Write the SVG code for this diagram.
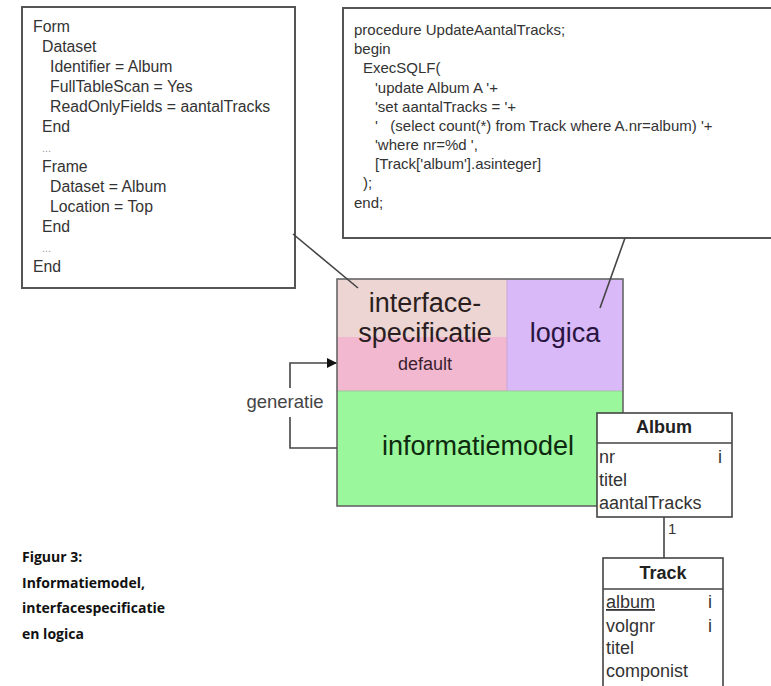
<svg xmlns="http://www.w3.org/2000/svg" width="771" height="686" viewBox="0 0 771 686">
<defs>
<marker id="arr" markerWidth="10" markerHeight="10" refX="9" refY="5" orient="auto" markerUnits="userSpaceOnUse">
<path d="M0,0 L10,5 L0,10 z" fill="#111"/>
</marker>
<style>
.code{font-family:"Liberation Sans",Arial,sans-serif;font-size:15px;fill:#333}
.code2{font-family:"Liberation Sans",Arial,sans-serif;font-size:15.8px;fill:#333}
.dots{font-size:11px;fill:#999}
.box{fill:#fff;stroke:#555;stroke-width:2}
.big{font-family:"Liberation Sans",Arial,sans-serif;font-size:27px;text-anchor:middle}
.uml{font-family:"Liberation Sans",Arial,sans-serif;font-size:18px;fill:#333}
.umlh{font-family:"Liberation Sans",Arial,sans-serif;font-size:18px;font-weight:bold;fill:#222;text-anchor:middle}
.ln{stroke:#444;stroke-width:1.6;fill:none}
.cap{font-family:"Open Sans","Noto Sans",sans-serif;font-size:14px;font-weight:bold;fill:#111}
</style>
</defs>
<rect width="771" height="686" fill="#fff"/>

<g id="formspec">
<rect class="box" x="22" y="7" width="273" height="281"/>
<text class="code2">
<tspan x="33" y="32">Form</tspan>
<tspan x="42" y="52">Dataset</tspan>
<tspan x="50" y="72">Identifier = Album</tspan>
<tspan x="50" y="92">FullTableScan = Yes</tspan>
<tspan x="50" y="112">ReadOnlyFields = aantalTracks</tspan>
<tspan x="42" y="132">End</tspan>
<tspan x="42" y="152" class="dots">...</tspan>
<tspan x="42" y="172">Frame</tspan>
<tspan x="50" y="192">Dataset = Album</tspan>
<tspan x="50" y="212">Location = Top</tspan>
<tspan x="42" y="232">End</tspan>
<tspan x="42" y="252" class="dots">...</tspan>
<tspan x="33" y="272">End</tspan>
</text>
</g>

<g id="procedure">
<rect class="box" x="343" y="8" width="440" height="230"/>
<text class="code" xml:space="preserve"><tspan x="354" y="35">procedure UpdateAantalTracks;</tspan><tspan x="354" y="54">begin</tspan><tspan x="363" y="73">ExecSQLF(</tspan><tspan x="375" y="93">'update Album A '+</tspan><tspan x="375" y="112">'set aantalTracks = '+</tspan><tspan x="375" y="131">'   (select count(*) from Track where A.nr=album) '+</tspan><tspan x="375" y="150">'where nr=%d ',</tspan><tspan x="375" y="169">[Track['album'].asinteger]</tspan><tspan x="363" y="188">);</tspan><tspan x="354" y="208">end;</tspan></text>
</g>

<g id="main">
<rect x="337" y="279" width="170" height="58" fill="#edd5d3"/>
<rect x="337" y="337" width="170" height="54" fill="#f2b8cf"/>
<rect x="507" y="279" width="116" height="112" fill="#d9b9f7"/>
<rect x="337" y="391" width="286" height="115" fill="#9af79b"/>
<line x1="507" y1="279" x2="507" y2="391" stroke="#c9a6d8" stroke-width="1"/>
<line x1="337" y1="391" x2="623" y2="391" stroke="#9bc99b" stroke-width="1"/>
<rect x="337" y="279" width="286" height="227" fill="none" stroke="#666" stroke-width="1.6"/>
<text class="big" x="425" y="312" fill="#2a1e1e">interface-</text>
<text class="big" x="425" y="342" fill="#2a1e22">specificatie</text>
<text x="425" y="370" font-family="Liberation Sans, Arial, sans-serif" font-size="18" text-anchor="middle" fill="#3a1e2e">default</text>
<text class="big" x="565" y="342" fill="#2a1440">logica</text>
<text class="big" x="478" y="455" fill="#0e2a0e">informatiemodel</text>
</g>

<g id="connectors">
<line class="ln" x1="293" y1="234" x2="358" y2="288"/>
<line class="ln" x1="625" y1="238" x2="600" y2="308"/>
<path class="ln" d="M337,448 H290 V417"/>
<path class="ln" d="M290,388 V363 H336" marker-end="url(#arr)"/>
<line class="ln" x1="664" y1="517" x2="664" y2="558"/>
<text x="668" y="534" font-family="Liberation Sans, Arial, sans-serif" font-size="15" fill="#333">1</text>
</g>

<g id="generatie">
<text x="285" y="408" font-family="Liberation Sans, Arial, sans-serif" font-size="18.5" text-anchor="middle" fill="#444">generatie</text>
</g>

<g id="album">
<rect x="597" y="413" width="135" height="104" fill="#fff" stroke="#444" stroke-width="1.6"/>
<line x1="597" y1="443" x2="732" y2="443" stroke="#444" stroke-width="1.6"/>
<text class="umlh" x="664" y="433">Album</text>
<text class="uml" x="599" y="463">nr</text>
<text class="uml" x="718" y="463">i</text>
<text class="uml" x="599" y="486">titel</text>
<text class="uml" x="599" y="509">aantalTracks</text>
</g>

<g id="track">
<rect x="603" y="558" width="120" height="140" fill="#fff" stroke="#444" stroke-width="1.6"/>
<line x1="603" y1="589" x2="723" y2="589" stroke="#444" stroke-width="1.6"/>
<text class="umlh" x="663" y="579">Track</text>
<text class="uml" x="606" y="608" text-decoration="underline">album</text>
<text class="uml" x="708" y="608">i</text>
<text class="uml" x="606" y="632">volgnr</text>
<text class="uml" x="708" y="632">i</text>
<text class="uml" x="606" y="654">titel</text>
<text class="uml" x="606" y="677">componist</text>
</g>

<g id="caption">
<text class="cap" x="22" y="562">Figuur 3:</text>
<text class="cap" x="22" y="587.5">Informatiemodel,</text>
<text class="cap" x="22" y="613">interfacespecificatie</text>
<text class="cap" x="22" y="638.5">en logica</text>
</g>
</svg>
